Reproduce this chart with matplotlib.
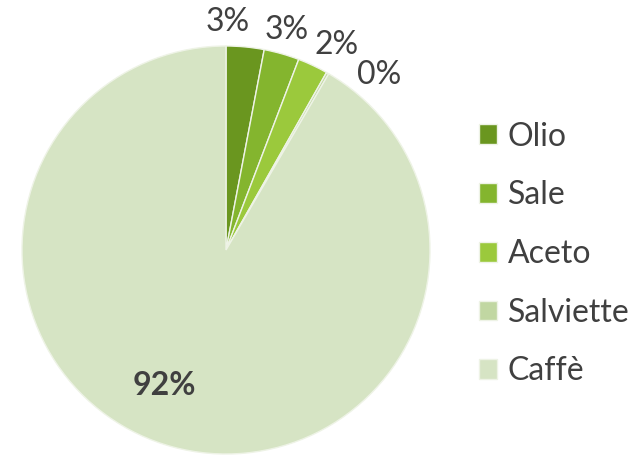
import numpy as np
import matplotlib.pyplot as plt

plt.rcParams['font.family'] = ['Lato', 'DejaVu Sans']

# data
categories = ['Olio', 'Sale', 'Aceto', 'Salviette', 'Caffè']
values = [3.0, 2.8, 2.4, 0.2, 91.6]
pct_labels = ['3%', '3%', '2%', '0%', '92%']

colors = ['#6a961f', '#84b52e', '#9bc93c', '#c1d7a2', '#d6e4c4']
label_angles = [89.5, 74.5, 61.6, 48.7, 245.7]
label_radii = [1.12, 1.12, 1.14, 1.14, 0.73]
label_weights = ['normal', 'normal', 'normal', 'normal', 'bold']

W, H = 642, 459
fig = plt.figure(figsize=(W / 100, H / 100), dpi=100)
cx, cy, r = 226, 250, 204
ax = fig.add_axes([(cx - r) / W, (H - cy - r) / H, 2 * r / W, 2 * r / H])

wedges, _ = ax.pie(values, colors=colors, startangle=90, counterclock=False,
                   radius=1.0, wedgeprops=dict(edgecolor='#eef3e6', linewidth=1.0))
ax.set_xlim(-1, 1)
ax.set_ylim(-1, 1)
ax.set_aspect('equal')
ax.axis('off')

for txt, ang, rad, fw in zip(pct_labels, label_angles, label_radii, label_weights):
    a = np.deg2rad(ang)
    ax.text(rad * np.cos(a), rad * np.sin(a), txt, ha='center', va='center',
            fontsize=23, color='#404040', fontweight=fw, clip_on=False)

leg = fig.legend(wedges, categories, loc='center left', bbox_to_anchor=(450 / W, 1 - 254 / H),
                 frameon=False, fontsize=23, labelcolor='#404040',
                 handlelength=0.58, handleheight=0.58, handletextpad=0.33,
                 labelspacing=0.9)

fig.savefig('out.png', dpi=100)
